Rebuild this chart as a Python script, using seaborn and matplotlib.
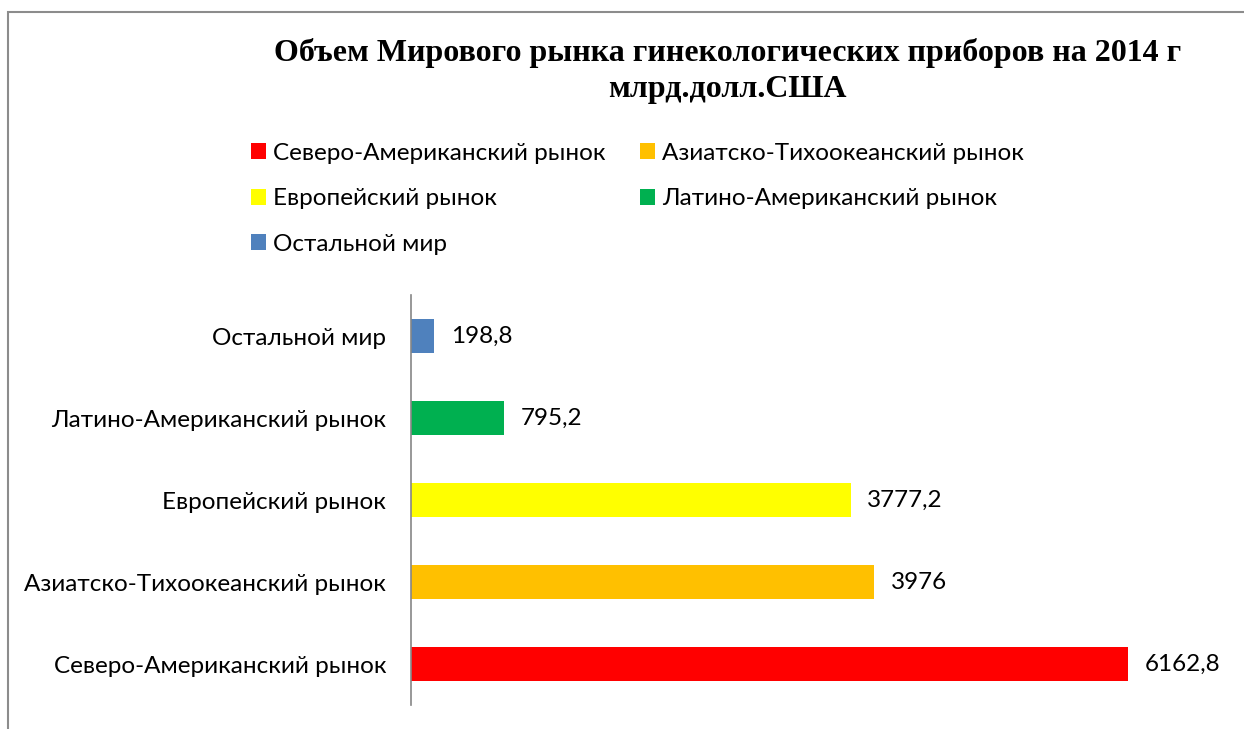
import pandas as pd
import matplotlib.pyplot as plt
import seaborn as sns
from matplotlib.patches import Rectangle, Patch

# === ДАННЫЕ ===
markets = ['Остальной мир', 'Латино-Американский рынок', 'Европейский рынок',
           'Азиатско-Тихоокеанский рынок', 'Северо-Американский рынок']
values = [198.8, 795.2, 3777.2, 3976, 6162.8]
colors = ['#4F81BD', '#00B050', '#FFFF00', '#FFC000', '#FF0000']
legend_order = ['Северо-Американский рынок', 'Европейский рынок', 'Остальной мир',
                'Азиатско-Тихоокеанский рынок', 'Латино-Американский рынок']
title = 'Объем Мирового рынка гинекологических приборов на 2014 г\nмлрд.долл.США'

df = pd.DataFrame({'market': markets, 'value': values})
palette = dict(zip(markets, colors))

sns.set_style('white')
plt.rcParams['font.family'] = ['Lato', 'DejaVu Sans']
plt.rcParams['text.color'] = 'black'
plt.rcParams['ytick.color'] = 'black'

fig = plt.figure(figsize=(12.44, 7.29), dpi=100)
ax = fig.add_axes([0.3304, 0.0329, 0.6551, 0.5624])

sns.barplot(data=df, x='value', y='market', hue='market', palette=palette,
            order=markets, hue_order=markets, width=0.41, legend=False,
            saturation=1, linewidth=0, ax=ax)

for cont in ax.containers:
    ax.bar_label(cont, labels=[f'{v:g}'.replace('.', ',') for v in cont.datavalues],
                 padding=12, fontsize=17.5, color='black')

ax.set_xlim(0, 7000)
ax.set_xlabel('')
ax.set_ylabel('')
ax.set_xticks([])
ax.tick_params(axis='y', length=0, labelsize=17.5, pad=18, labelcolor='black')
for s in ['top', 'right', 'bottom']:
    ax.spines[s].set_visible(False)
ax.spines['left'].set_color('#868686')
ax.spines['left'].set_linewidth(1.2)

# рамка диаграммы
fig.patches.append(Rectangle((8 / 1244, -0.1), 1.2, 0.9835 + 0.1, transform=fig.transFigure,
                             fill=False, edgecolor='#8C8C8C', linewidth=1.5))

fig.text(0.585, 0.903, title, ha='center', va='center', fontsize=23,
         fontweight='bold', family='Liberation Serif', linespacing=1.32, color='black')

handles = [Patch(facecolor=palette[m], edgecolor='none') for m in legend_order]
fig.legend(handles, legend_order, ncol=2, loc='upper left', bbox_to_anchor=(0.184, 0.834),
           frameon=False, fontsize=17.5, handlelength=0.62, handleheight=0.62,
           handletextpad=0.3, columnspacing=1.4, labelspacing=1.0)

plt.savefig('out.png', dpi=100)
